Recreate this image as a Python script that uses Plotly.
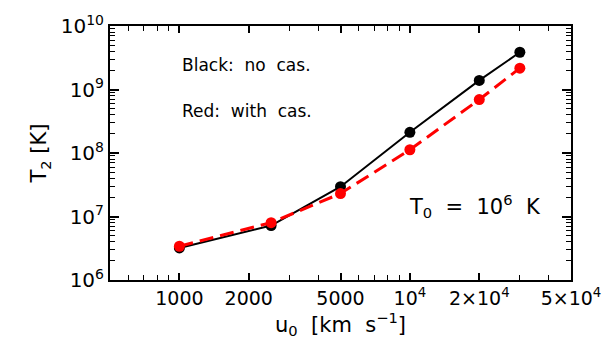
import plotly.graph_objects as go

u0 = [1000, 2500, 5000, 10000, 20000, 30000]
t2_no_cas = [3.2e6, 7.2e6, 2.95e7, 2.12e8, 1.39e9, 3.86e9]
t2_with_cas = [3.4e6, 8.0e6, 2.3e7, 1.125e8, 6.95e8, 2.17e9]

x_tickvals = [1000, 2000, 5000, 1e4, 2e4, 5e4]
x_ticktext = ["1000", "2000", "5000", "10<sup>4</sup>", "2×10<sup>4</sup>", "5×10<sup>4</sup>"]
y_tickvals = [1e6, 1e7, 1e8, 1e9, 1e10]
y_ticktext = ["10<sup>6</sup>", "10<sup>7</sup>", "10<sup>8</sup>", "10<sup>9</sup>", "10<sup>10</sup>"]

FONT = "DejaVu Sans"
SP = "\u00a0"

fig = go.Figure()
fig.add_trace(go.Scatter(x=u0, y=t2_no_cas, mode="lines+markers",
                         line=dict(color="black", width=2),
                         marker=dict(color="black", size=11),
                         showlegend=False))
fig.add_trace(go.Scatter(x=u0, y=t2_with_cas, mode="lines+markers",
                         line=dict(color="#ff0000", width=3, dash="14px,7px"),
                         marker=dict(color="#ff0000", size=11),
                         showlegend=False))

fig.update_xaxes(type="log", range=[2.69897, 4.69897],
                 tickvals=x_tickvals, ticktext=x_ticktext,
                 ticks="inside", ticklen=7, tickwidth=1.5, tickcolor="black",
                 showline=True, linecolor="black", linewidth=2, mirror="ticks",
                 showgrid=False, zeroline=False,
                 minor=dict(ticks="inside", ticklen=5, tickwidth=1.2, tickcolor="black",
                            showgrid=False, dtick="D1"),
                 tickfont=dict(family=FONT, size=19, color="black"),
                 title=dict(text="u<sub>0</sub>" + SP + SP + "[km" + SP + SP + "s<sup>−1</sup>]",
                            font=dict(family=FONT, size=21, color="black"), standoff=4))
fig.update_yaxes(type="log", range=[6, 10],
                 tickvals=y_tickvals, ticktext=y_ticktext,
                 ticks="inside", ticklen=9, tickwidth=1.5, tickcolor="black",
                 showline=True, linecolor="black", linewidth=2, mirror="ticks",
                 showgrid=False, zeroline=False,
                 minor=dict(ticks="inside", ticklen=5, tickwidth=1.2, tickcolor="black",
                            showgrid=False, dtick="D1"),
                 tickfont=dict(family=FONT, size=20, color="black"),
                 title=dict(text="T<sub>2</sub>" + SP + "[K]",
                            font=dict(family=FONT, size=21, color="black"), standoff=8))

fig.add_annotation(x=0.152, y=0.845, xref="paper", yref="paper", xanchor="left", yanchor="middle",
                   text="Black:" + SP + SP + "no" + SP + SP + "cas.", showarrow=False,
                   font=dict(family=FONT, size=17, color="black"))
fig.add_annotation(x=0.152, y=0.665, xref="paper", yref="paper", xanchor="left", yanchor="middle",
                   text="Red:" + SP + SP + "with" + SP + SP + "cas.", showarrow=False,
                   font=dict(family=FONT, size=17, color="black"))
fig.add_annotation(x=0.645, y=0.29, xref="paper", yref="paper", xanchor="left", yanchor="middle",
                   text="T<sub>0</sub>" + SP + SP + "=" + SP + SP + "10<sup>6</sup>" + SP + SP + "K",
                   showarrow=False,
                   font=dict(family=FONT, size=21, color="black"))

fig.update_layout(width=613, height=351,
                  margin=dict(l=110, r=36, t=22, b=71),
                  plot_bgcolor="white", paper_bgcolor="white")

fig.write_html("out.html")
